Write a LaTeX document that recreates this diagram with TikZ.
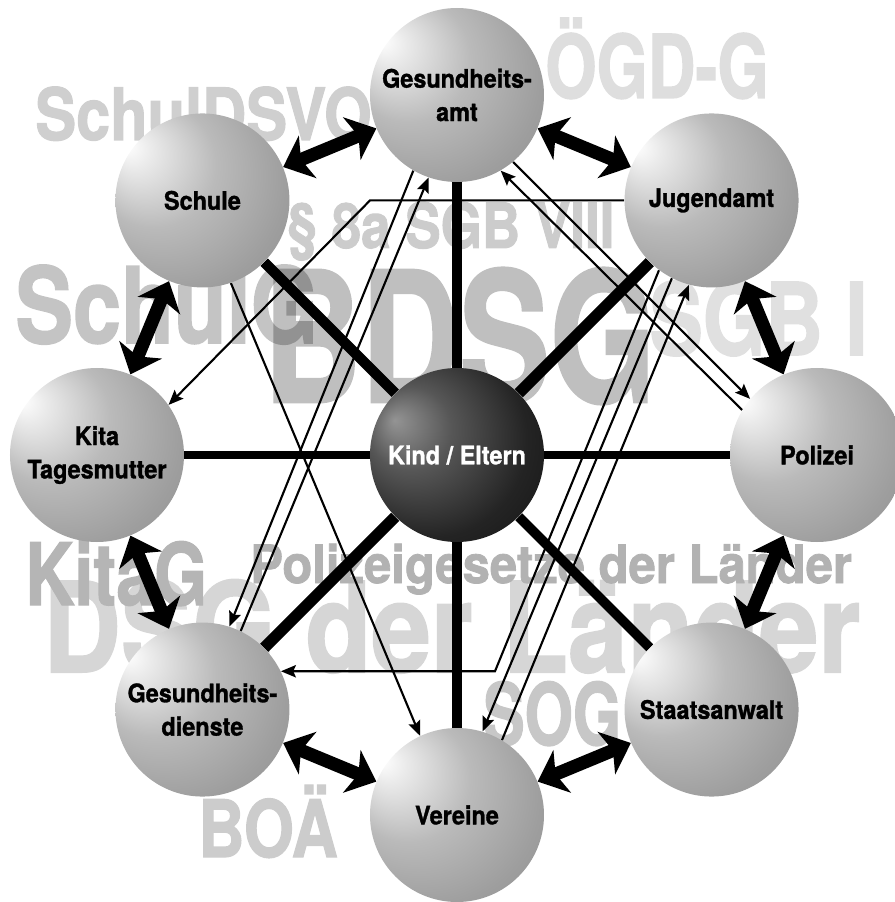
\documentclass[tikz,border=0pt]{standalone}
\usepackage{fontspec}
\setmainfont{TeX Gyre Heros}
\newfontfamily\orbfont{TeX Gyre Heros}[FakeStretch=0.92,FakeBold=1.2]
\newfontfamily\lawfont{TeX Gyre Heros}[FakeBold=1.6]
\usetikzlibrary{arrows.meta}

\pgfdeclarelayer{bg}
\pgfsetlayers{bg,main}

\pgfdeclareradialshading{orbgray}{\pgfpoint{-22bp}{16bp}}{%
  color(0bp)=(white); color(5bp)=(black!8); color(18bp)=(black!27);
  color(32bp)=(black!38); color(44bp)=(black!45); color(50bp)=(black!53)}
\pgfdeclareradialshading{orbdark}{\pgfpoint{-18bp}{10bp}}{%
  color(0bp)=(black!42); color(12bp)=(black!66); color(28bp)=(black!86);
  color(50bp)=(black!97)}

\begin{document}
\begin{tikzpicture}[
  orb/.style={circle,minimum size=3.48cm,inner sep=0pt,shading=orbgray,align=center,
    font=\orbfont\bfseries\fontsize{14.5pt}{19pt}\selectfont,text=black},
  kern/.style={orb,shading=orbdark,text=white},
  spoke/.style={line width=5.5pt},
  link/.style={line width=7.5pt,{Stealth[length=15pt,width=26pt,inset=4pt]}-{Stealth[length=15pt,width=26pt,inset=4pt]}},
  flow/.style={line width=1.2pt,-{Stealth[length=8.5pt,width=7pt,inset=1.5pt]}},
  law/.style={anchor=base west,inner sep=0pt}
]
\useasboundingbox (-9.14,-8.94) rectangle (8.76,9.10);

% spheres
\node[kern] (kind) at (0,0) {Kind / Eltern};
\node[orb] (gamt) at (90:7.2) {Gesundheits-\\amt};
\node[orb] (jugend) at (45:7.2) {Jugendamt};
\node[orb] (polizei) at (0:7.2) {Polizei};
\node[orb] (staat) at (-45:7.2) {Staatsanwalt};
\node[orb] (verein) at (-90:7.2) {Vereine};
\node[orb] (gdienst) at (-135:7.2) {Gesundheits-\\dienste};
\node[orb] (kita) at (180:7.2) {Kita\\Tagesmutter};
\node[orb] (schule) at (135:7.2) {Schule};

\coordinate (kink1) at (-1.74,0);
\coordinate (kink2) at (0.76,0);

\begin{pgfonlayer}{bg}
% laws in the background
\node[law,text=black!19,font=\lawfont\bfseries\fontsize{41pt}{41pt}\selectfont] (schuldsvo) at (-8.44,6.30) {\scalebox{0.85}[1]{SchulDSVO}};
\node[law,text=black!13,font=\lawfont\bfseries\fontsize{50pt}{50pt}\selectfont] (oegdg) at (1.76,7.14) {\scalebox{0.75}[1]{ÖGD-G}};
\node[law,text=black!20,font=\lawfont\bfseries\fontsize{35.5pt}{36pt}\selectfont] (sgbviii) at (-3.40,4.14) {\scalebox{0.85}[1]{§ 8a SGB VIII}};
\node[law,anchor=base east,text=black!12,font=\lawfont\bfseries\fontsize{57pt}{57pt}\selectfont] (sgbi) at (8.22,2.00) {\scalebox{0.8}[1]{SGB I}};
\node[law,text=black!25,font=\lawfont\bfseries\fontsize{103pt}{103pt}\selectfont] (bdsg) at (-3.88,1.06) {\scalebox{0.75}[1]{BDSG}};
\begin{scope}[transparency group,opacity=0.23]
\node[law,text=black,font=\lawfont\bfseries\fontsize{60pt}{60pt}\selectfont] (schulg) at (-8.84,2.24) {\scalebox{0.82}[1]{SchulG}};
\end{scope}
\node[law,text=black!16,font=\lawfont\bfseries\fontsize{71pt}{71pt}\selectfont] (dsg) at (-8.28,-4.34) {\scalebox{0.86}[1]{DSG der Länder}};
\node[law,text=black!29,font=\lawfont\bfseries\fontsize{49pt}{49pt}\selectfont] (kitag) at (-8.64,-3.00) {\scalebox{0.79}[1]{KitaG}};
\node[law,text=black!30,font=\lawfont\bfseries\fontsize{30pt}{30pt}\selectfont] (polg) at (-4.14,-2.56) {\scalebox{0.93}[1]{Polizeigesetze der Länder}};
\node[law,text=black!22,font=\lawfont\bfseries\fontsize{49pt}{49pt}\selectfont] (sog) at (0.52,-5.80) {\scalebox{0.72}[1]{SOG}};
\node[law,text=black!20,font=\lawfont\bfseries\fontsize{45pt}{45pt}\selectfont] (boae) at (-5.18,-8.04) {\scalebox{0.81}[1]{BOÄ}};

% spokes
\draw[spoke] (kind) -- (gamt);
\draw[spoke,line width=6.5pt] (kind) -- (jugend);
\draw[spoke,line width=5pt] (kind) -- (polizei);
\draw[spoke] (kind) -- (staat);
\draw[spoke] (kind) -- (verein);
\draw[spoke,line width=6.5pt] (kind) -- (gdienst);
\draw[spoke,line width=5pt] (kind) -- (kita);
\draw[spoke,line width=6pt] (kind) -- (schule);

% neighbours
\draw[link] (schule) -- (gamt);
\draw[link] (gamt) -- (jugend);
\draw[link] (jugend) -- (polizei);
\draw[link] (polizei) -- (staat);
\draw[link] (staat) -- (verein);
\draw[link] (verein) -- (gdienst);
\draw[link] (gdienst) -- (kita);
\draw[link] (kita) -- (schule);

% data flows
\draw[flow] (jugend.west) -- (kink1 |- jugend.west) -- (kita.35);
\draw[flow] (schule.-71) -- (verein.115);
\draw[flow] (gamt.-120) -- (gdienst.72);
\draw[flow] (gdienst.64) -- (gamt.-109);
\draw[flow] (gamt.-50) -- (polizei.140);
\draw[flow] (polizei.149) -- (gamt.-60);
\draw[flow] (jugend.-127) -- (kink2 |- gdienst.26) -- (gdienst.26);
\draw[flow] (jugend.-117) -- (verein.73);
\draw[flow] (verein.59) -- (jugend.-105);
\end{pgfonlayer}
\end{tikzpicture}
\end{document}
